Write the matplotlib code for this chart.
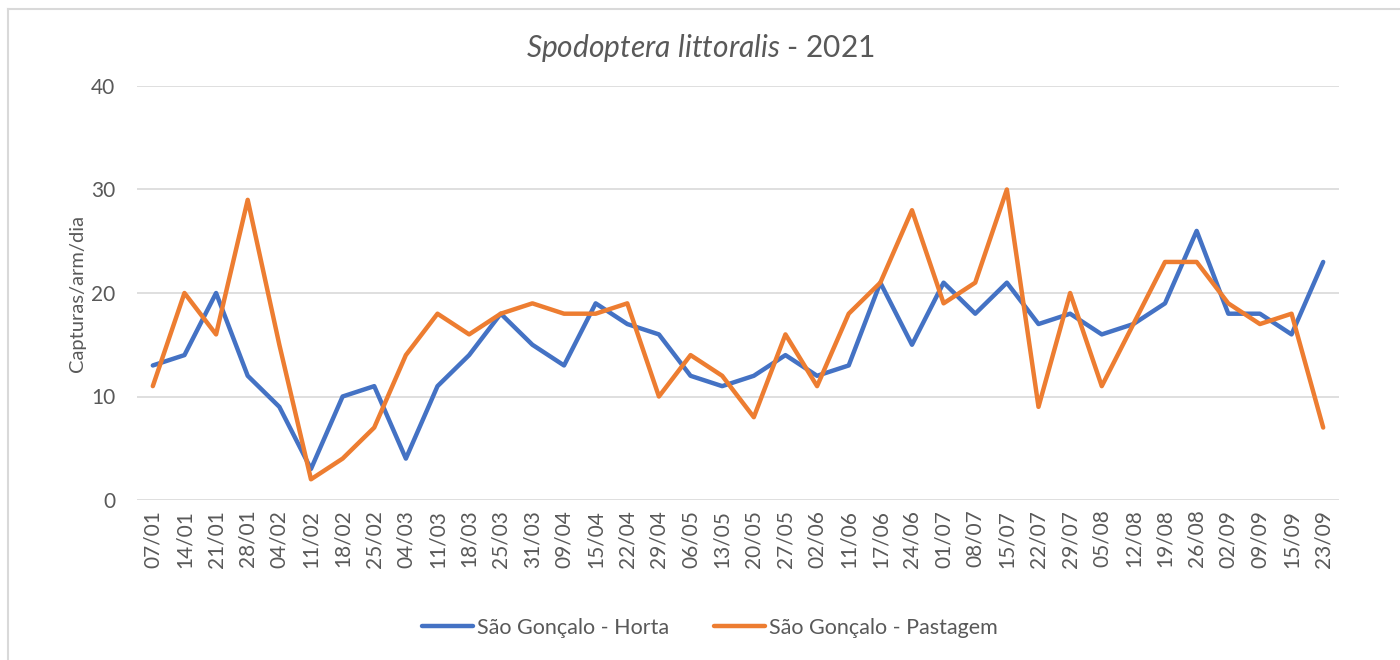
import matplotlib
matplotlib.use("Agg")
import matplotlib.pyplot as plt
from matplotlib.lines import Line2D

plt.rcParams['font.family'] = ['Lato', 'DejaVu Sans']
plt.rcParams['mathtext.fontset'] = 'custom'
plt.rcParams['mathtext.it'] = 'Lato:italic'
plt.rcParams['mathtext.rm'] = 'Lato'

dates = ["07/01", "14/01", "21/01", "28/01", "04/02", "11/02", "18/02", "25/02",
         "04/03", "11/03", "18/03", "25/03", "31/03", "09/04", "15/04", "22/04",
         "29/04", "06/05", "13/05", "20/05", "27/05", "02/06", "11/06", "17/06",
         "24/06", "01/07", "08/07", "15/07", "22/07", "29/07", "05/08", "12/08",
         "19/08", "26/08", "02/09", "09/09", "15/09", "23/09"]
horta = [13, 14, 20, 12, 9, 3, 10, 11, 4, 11, 14, 18, 15, 13, 19, 17, 16, 12, 11,
         12, 14, 12, 13, 21, 15, 21, 18, 21, 17, 18, 16, 17, 19, 26, 18, 18, 16, 23]
pastagem = [11, 20, 16, 29, 15, 2, 4, 7, 14, 18, 16, 18, 19, 18, 18, 19, 10, 14, 12,
            8, 16, 11, 18, 21, 28, 19, 21, 30, 9, 20, 11, 17, 23, 23, 19, 17, 18, 7]
series_names = ["São Gonçalo - Horta", "São Gonçalo - Pastagem"]
yticks = [0, 10, 20, 30, 40]

blue = "#4472C4"
orange = "#ED7D31"
txt = "#595959"
grid = "#D9D9D9"

fig = plt.figure(figsize=(14, 6.6), dpi=100)
ax = fig.add_axes([137/1400, 1 - 500/660, 1202/1400, 414/660])

x = list(range(len(dates)))
ax.plot(x, horta, color=blue, lw=3.2, solid_joinstyle='round', solid_capstyle='round', zorder=3)
ax.plot(x, pastagem, color=orange, lw=3.2, solid_joinstyle='round', solid_capstyle='round', zorder=4)

ax.set_xlim(-0.5, len(dates) - 0.5)
ax.set_ylim(0, 40)
ax.set_yticks(yticks)
ax.set_yticklabels([str(v) for v in yticks], fontsize=15, color=txt)
ax.set_xticks(x)
ax.set_xticklabels(dates, rotation=90, fontsize=15, color=txt)
ax.tick_params(axis='both', length=0)
ax.tick_params(axis='y', pad=15.5)
ax.tick_params(axis='x', pad=7)
for s in ax.spines.values():
    s.set_visible(False)
ax.grid(axis='y', color=grid, lw=1.2, zorder=0)
ax.set_axisbelow(True)
ax.set_ylabel("Capturas/arm/dia", fontsize=14.5, color=txt, labelpad=4)

fig.text(0.5, 1 - 48/660, r"$\it{Spodoptera\ littoralis}$ - 2021", ha='center', va='center',
         fontsize=21.5, color=txt)

handles = [Line2D([0], [0], color=blue, lw=3.2, solid_capstyle='round'),
           Line2D([0], [0], color=orange, lw=3.2, solid_capstyle='round')]
fig.legend(handles, series_names, loc='center', bbox_to_anchor=(710/1400, 1 - 628/660),
           ncol=2, frameon=False, fontsize=15.5, labelcolor=txt, handlelength=2.35,
           handletextpad=0.2, columnspacing=2.1)

fig.add_artist(Line2D([8/1400, 8/1400], [0, 1 - 9/660], color=grid, lw=1.5, transform=fig.transFigure))
fig.add_artist(Line2D([8/1400, 1], [1 - 9/660, 1 - 9/660], color=grid, lw=1.5, transform=fig.transFigure))

fig.savefig("out.png", dpi=100, facecolor='white')
